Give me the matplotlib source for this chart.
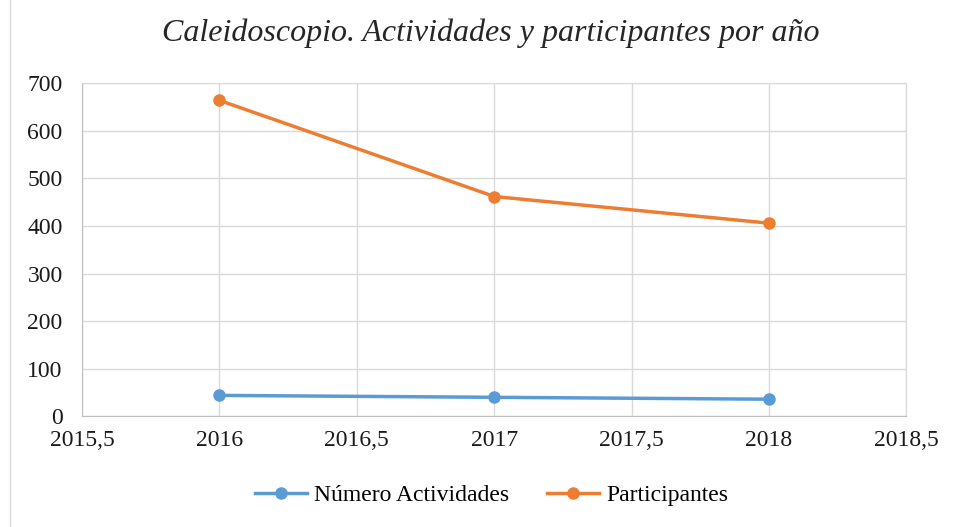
import matplotlib
matplotlib.use("Agg")
import matplotlib.pyplot as plt
from matplotlib.ticker import FuncFormatter

plt.rcParams['font.family'] = ['Liberation Serif', 'DejaVu Serif']

years = [2016, 2017, 2018]
actividades = [44, 40, 36]
participantes = [664, 462, 406]

blue = '#5b9bd5'
orange = '#ed7d31'
grid_c = '#d9d9d9'

fig = plt.figure(figsize=(9.55, 5.27), dpi=100)
ax = fig.add_axes([0.086, 0.21, 0.863, 0.632])

ax.plot(years, actividades, color=blue, lw=2.5, marker='o', ms=8, label='Número Actividades')
ax.plot(years, participantes, color=orange, lw=2.5, marker='o', ms=8, label='Participantes')

ax.set_xlim(2015.5, 2018.5)
ax.set_ylim(0, 700)
ax.set_xticks([2015.5, 2016, 2016.5, 2017, 2017.5, 2018, 2018.5])
ax.set_yticks(range(0, 701, 100))
ax.xaxis.set_major_formatter(FuncFormatter(lambda v, p: f'{v:g}'.replace('.', ',')))
ax.grid(True, color=grid_c, lw=1)
ax.set_axisbelow(True)
for s in ax.spines.values():
    s.set_color(grid_c)
ax.spines['left'].set_color('#bfbfbf')
ax.spines['bottom'].set_color('#bfbfbf')
ax.tick_params(length=0, labelsize=17, colors='#1a1a1a')
ax.tick_params(axis='x', pad=10)
ax.tick_params(axis='y', pad=14)

fig.text(0.514, 0.937, 'Caleidoscopio. Actividades y participantes por año',
         ha='center', va='center', fontsize=23, style='italic', color='#262626')

fig.legend(loc='center', bbox_to_anchor=(0.515, 0.06), ncol=2, frameon=False,
           fontsize=17, handlelength=2.2, columnspacing=1.6, handletextpad=0.3)

fig.patches.append(plt.Rectangle((0.01, -0.01), 1.0, 1.02, transform=fig.transFigure,
                                 fill=False, edgecolor='#d9d9d9', lw=1))

fig.savefig('out.png', dpi=100)
